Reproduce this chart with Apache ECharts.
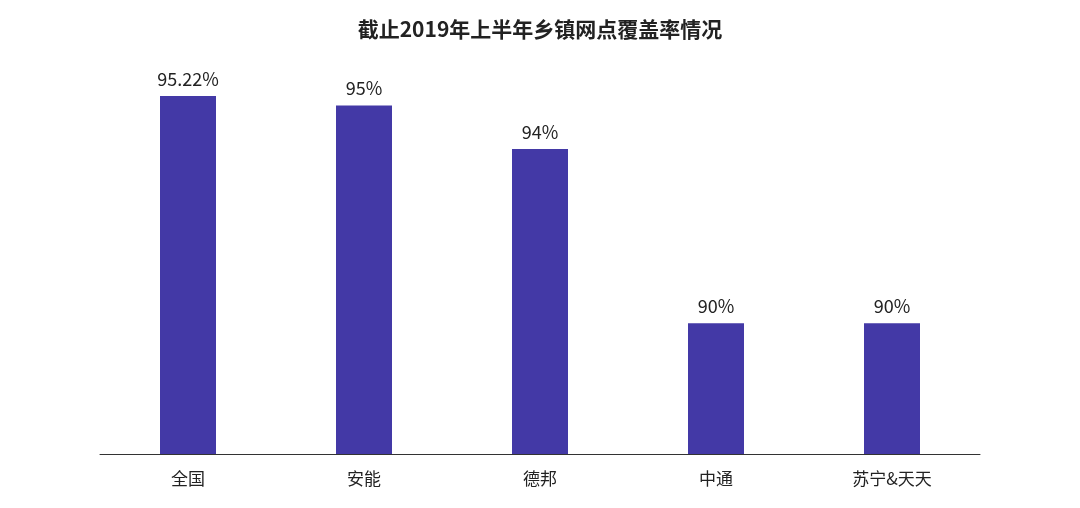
<!DOCTYPE html>
<html>
<head>
<meta charset="utf-8">
<script src="https://cdn.jsdelivr.net/npm/echarts@6/dist/echarts.min.js"></script>
<style>html,body{margin:0;padding:0;background:#fff;}#main{width:1080px;height:508px;}</style>
</head>
<body>
<div id="main"></div>
<script>
// 数据
var categories = ['全国', '安能', '德邦', '中通', '苏宁&天天'];
var values = [95.22, 95, 94, 90, 90];
var labels = ['95.22%', '95%', '94%', '90%', '90%'];

var myChart = echarts.init(document.getElementById('main'));
var option = {
    title: {
        text: '截止2019年上半年乡镇网点覆盖率情况',
        left: 'center',
        top: 14,
        textStyle: {fontSize: 21, fontWeight: 'bold', color: '#222', fontFamily: 'Noto Sans CJK SC'}
    },
    grid: {left: 100, right: 100, top: 62, bottom: 54},
    xAxis: {
        type: 'category',
        data: categories,
        axisLine: {lineStyle: {color: '#333', width: 1}},
        axisTick: {show: false},
        axisLabel: {fontSize: 17, color: '#222', margin: 16, fontFamily: 'Noto Sans CJK SC'}
    },
    yAxis: {
        type: 'value',
        min: 87,
        max: 96,
        show: false,
        splitLine: {show: false}
    },
    series: [{
        type: 'bar',
        data: values,
        barWidth: 56,
        itemStyle: {color: '#4339a6'},
        label: {
            show: true,
            position: 'top',
            distance: 8,
            fontSize: 18,
            color: '#222',
            fontFamily: 'Noto Sans CJK SC',
            formatter: function (p) { return labels[p.dataIndex]; }
        }
    }]
};
myChart.setOption(option);
</script>
</body>
</html>
